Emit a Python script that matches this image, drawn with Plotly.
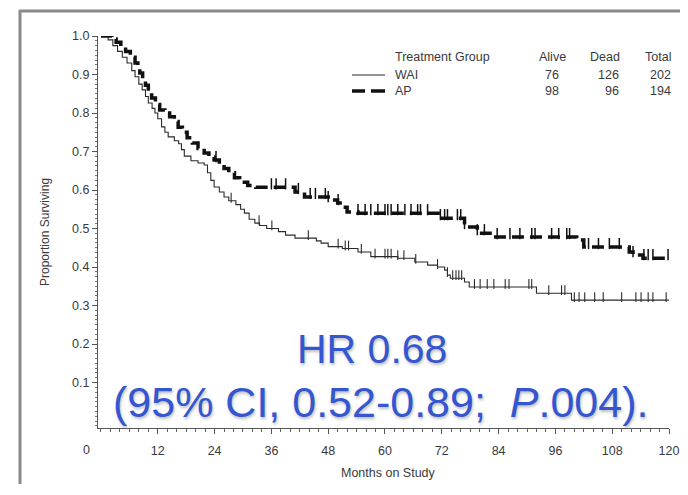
import numpy as np
import plotly.graph_objects as go

# ---- data ----
wai_t = [0, 1.5, 2.5, 3.5, 4.5, 5.5, 6.5, 7.2, 8.0, 8.7, 9.4, 10.0, 10.8, 11.4, 12.0, 12.8,
         13.5, 14.2, 15.5, 16.4, 17.0, 17.6, 19.0, 20.5, 21.8, 22.5, 23.2, 23.9, 25.0, 26.0,
         27.0, 28.5, 29.5, 30.3, 31.3, 32.5, 33.5, 35.0, 37.5, 39.0, 41.0, 45.5, 46.5, 48.0,
         51.0, 54.3, 57.0, 62.7, 66.3, 69.0, 71.1, 72.6, 73.2, 73.8, 76.8, 77.8, 92.0, 99.4, 120]
wai_s = [1.0, 0.99, 0.975, 0.96, 0.945, 0.93, 0.91, 0.894, 0.875, 0.86, 0.843, 0.826, 0.812,
         0.80, 0.785, 0.764, 0.75, 0.738, 0.728, 0.72, 0.705, 0.688, 0.676, 0.67, 0.665, 0.645,
         0.625, 0.608, 0.595, 0.582, 0.572, 0.562, 0.55, 0.54, 0.524, 0.514, 0.508, 0.50, 0.492,
         0.483, 0.475, 0.468, 0.462, 0.453, 0.448, 0.439, 0.427, 0.423, 0.413, 0.405, 0.40,
         0.392, 0.379, 0.371, 0.361, 0.348, 0.332, 0.314, 0.314]

ap_t = [0, 2.3, 3.2, 4.2, 5.2, 6.2, 7.2, 7.8, 8.2, 8.8, 9.4, 10.0, 10.7, 11.5, 12.4, 13.5,
        14.5, 15.5, 16.3, 17.2, 18.2, 19.3, 20.5, 21.8, 22.8, 23.9, 25.0, 26.0, 27.0, 28.2,
        29.3, 31.0, 32.7, 41.0, 43.0, 48.0, 50.0, 51.0, 52.0, 54.3, 71.7, 76.8, 79.5, 82.2,
        100.5, 102.0, 111.6, 112.4, 114.5, 120]
ap_s = [1.0, 0.992, 0.984, 0.972, 0.96, 0.945, 0.93, 0.918, 0.904, 0.888, 0.872, 0.855, 0.839,
        0.822, 0.808, 0.80, 0.79, 0.778, 0.763, 0.75, 0.736, 0.722, 0.708, 0.696, 0.686, 0.678,
        0.668, 0.656, 0.645, 0.632, 0.62, 0.612, 0.607, 0.595, 0.582, 0.574, 0.566, 0.555, 0.543,
        0.54, 0.527, 0.504, 0.488, 0.478, 0.47, 0.452, 0.439, 0.431, 0.423, 0.423]

wai_cens = [27.5, 33.4, 36.1, 43.8, 50.1, 51.6, 52.3, 55, 57.9, 60, 60.6, 61.3, 62.7, 64, 66.5,
            71.1, 73.2, 74.3, 75, 75.6, 76.2, 78.9, 80.1, 81.6, 83, 85.4, 86.2, 90.4, 91, 94.6,
            97.3, 98, 100, 101, 102.2, 104.3, 106.1, 110, 113, 114.1, 115.6, 116.6, 119.4]
ap_cens = [24.3, 36, 37, 39, 41.7, 44.2, 45.3, 47.4, 48, 50.1, 54.3, 55.8, 57, 58.5, 60, 60.6,
           61.3, 62.7, 64.2, 65.5, 66.9, 67.5, 69, 71.7, 72.6, 73.2, 75.3, 76, 76.8, 79.5, 81,
           83.7, 86.4, 88.5, 91, 91.7, 95.2, 96.7, 98.4, 99, 103, 105.1, 107.4, 109.5, 112.4,
           114.7, 115.6, 116.6, 119.8]

x_ticks = [12, 24, 36, 48, 60, 72, 84, 96, 108, 120]
y_ticks = [0.1, 0.2, 0.3, 0.4, 0.5, 0.6, 0.7, 0.8, 0.9, 1.0]

legend_header = ["Treatment Group", "Alive", "Dead", "Total"]
legend_rows = [["WAI", "76", "126", "202"], ["AP", "98", "96", "194"]]


def step_value(times, surv, t):
    idx = np.searchsorted(np.array(times), t, side="right") - 1
    return np.array(surv)[idx]


TXT = "#3a3a3a"
LINE = "#2b2b2b"
FONT = "Liberation Sans, Arial"
fig = go.Figure()

fig.add_trace(go.Scatter(x=wai_t, y=wai_s, mode="lines", line=dict(color=LINE, width=1.1, shape="hv"),
                         showlegend=False, hoverinfo="skip"))
fig.add_trace(go.Scatter(x=ap_t, y=ap_s, mode="lines",
                         line=dict(color="#111111", width=3.5, shape="hv", dash="12px,6px"),
                         showlegend=False, hoverinfo="skip"))

wc = np.array(wai_cens)
fig.add_trace(go.Scatter(x=wc, y=step_value(wai_t, wai_s, wc) + 0.008, mode="markers",
                         marker=dict(symbol="line-ns", size=7, line=dict(color=LINE, width=1.1)),
                         showlegend=False, hoverinfo="skip"))
ac = np.array(ap_cens)
fig.add_trace(go.Scatter(x=ac, y=step_value(ap_t, ap_s, ac) + 0.009, mode="markers",
                         marker=dict(symbol="line-ns", size=8, line=dict(color="#111111", width=1.5)),
                         showlegend=False, hoverinfo="skip"))

# page has an 8px body margin: keep the figure inside the window (no scrollbars)
OFF = 8
W, H = 688 - 2 * OFF, 495 - 2 * OFF - 3
FIG_R, FIG_B = OFF + W, OFF + H                 # page pixel of the figure's right / bottom edge
AX_L, AX_R, AX_T, AX_B = 98, 669, 36, 428      # page pixel positions of the plot area
L, T = AX_L - OFF, AX_T - OFF
pw, ph = AX_R - AX_L, AX_B - AX_T
R, B = W - L - pw, H - T - ph


def px(x):
    return (x - AX_L) / pw


def py(y):
    return (AX_B - y) / ph


def note(x, y, text, xanchor="center", size=12.5, color=TXT, **kw):
    return dict(x=px(x), y=py(y), text=text, xref="paper", yref="paper", xanchor=xanchor,
                yanchor="middle", showarrow=False, font=dict(family=FONT, size=size, color=color, **kw))


ann = []
# legend table
ann.append(note(393, 57, legend_header[0], "left"))
ann.append(note(552, 57, legend_header[1]))
ann.append(note(605, 57, legend_header[2]))
ann.append(note(673, 57, legend_header[3], "right"))
for row, yy in zip(legend_rows, [75, 91]):
    ann.append(note(393, yy, row[0], "left"))
    ann.append(note(561, yy, row[1], "right"))
    ann.append(note(621, yy, row[2], "right"))
    ann.append(note(673, yy, row[3], "right"))

# axis titles and the offset "0"
yt = note(45, 232, "Proportion Surviving", size=12)
yt["textangle"] = -90
ann.append(yt)
ann.append(note(388, 473, "Months on Study"))
ann.append(note(86, 450, "0"))

blue = "#3456d0"
shadow = "1px 2px 3px rgba(60,60,60,0.35)"
ann.append(note(372, 349, "HR 0.68", size=41, color=blue, shadow=shadow))
ann.append(note(380, 402, "(95% CI, 0.52-0.89; &#160;<i>P</i>.004).", size=43, color=blue, shadow=shadow))

FRAME = dict(color="#8a8a8a", width=3)
shapes = [
    # outer frame: top and left edges (right/bottom fall outside the picture)
    dict(type="line", xref="paper", yref="paper", x0=px(19), x1=px(FIG_R), y0=py(11), y1=py(11),
         line=FRAME, layer="below"),
    dict(type="line", xref="paper", yref="paper", x0=px(20), x1=px(20), y0=py(10), y1=py(FIG_B),
         line=FRAME, layer="below"),
    # legend samples
    dict(type="line", xref="paper", yref="paper", x0=px(352), x1=px(385), y0=py(75), y1=py(75),
         line=dict(color=LINE, width=1.1)),
    dict(type="line", xref="paper", yref="paper", x0=px(352), x1=px(365), y0=py(91), y1=py(91),
         line=dict(color="#111111", width=3.5)),
    dict(type="line", xref="paper", yref="paper", x0=px(371), x1=px(385), y0=py(91), y1=py(91),
         line=dict(color="#111111", width=3.5)),
]

fig.update_layout(
    template="none",
    width=W, height=H, margin=dict(l=L, r=R, t=T, b=B, autoexpand=False),
    paper_bgcolor="white", plot_bgcolor="white",
    annotations=ann, shapes=shapes, showlegend=False,
    font=dict(family=FONT, size=12, color=TXT),
    xaxis=dict(range=[-0.63, 120], tickvals=x_ticks, ticktext=[str(v) for v in x_ticks],
               automargin=False, showgrid=False, zeroline=False, showline=True, linecolor="#555",
               linewidth=1, ticks="outside", ticklen=5, tickcolor="#555", ticklabelstandoff=6,
               ticklabeloverflow="allow", tickfont=dict(size=12.5, color=TXT),
               minor=dict(dtick=2, tick0=0, ticks="outside", ticklen=3, tickcolor="#666", showgrid=False)),
    yaxis=dict(range=[-0.018, 1.0], tickvals=y_ticks, ticktext=[f"{v:.1f}" for v in y_ticks],
               automargin=False, showgrid=False, zeroline=False, showline=True, linecolor="#555",
               linewidth=1, ticks="outside", ticklen=5, tickcolor="#555", tickfont=dict(size=12.5, color=TXT),
               minor=dict(dtick=0.0125, tick0=0, ticks="outside", ticklen=2.5, tickcolor="#777",
                          showgrid=False)),
)

fig.write_html("out.html")
